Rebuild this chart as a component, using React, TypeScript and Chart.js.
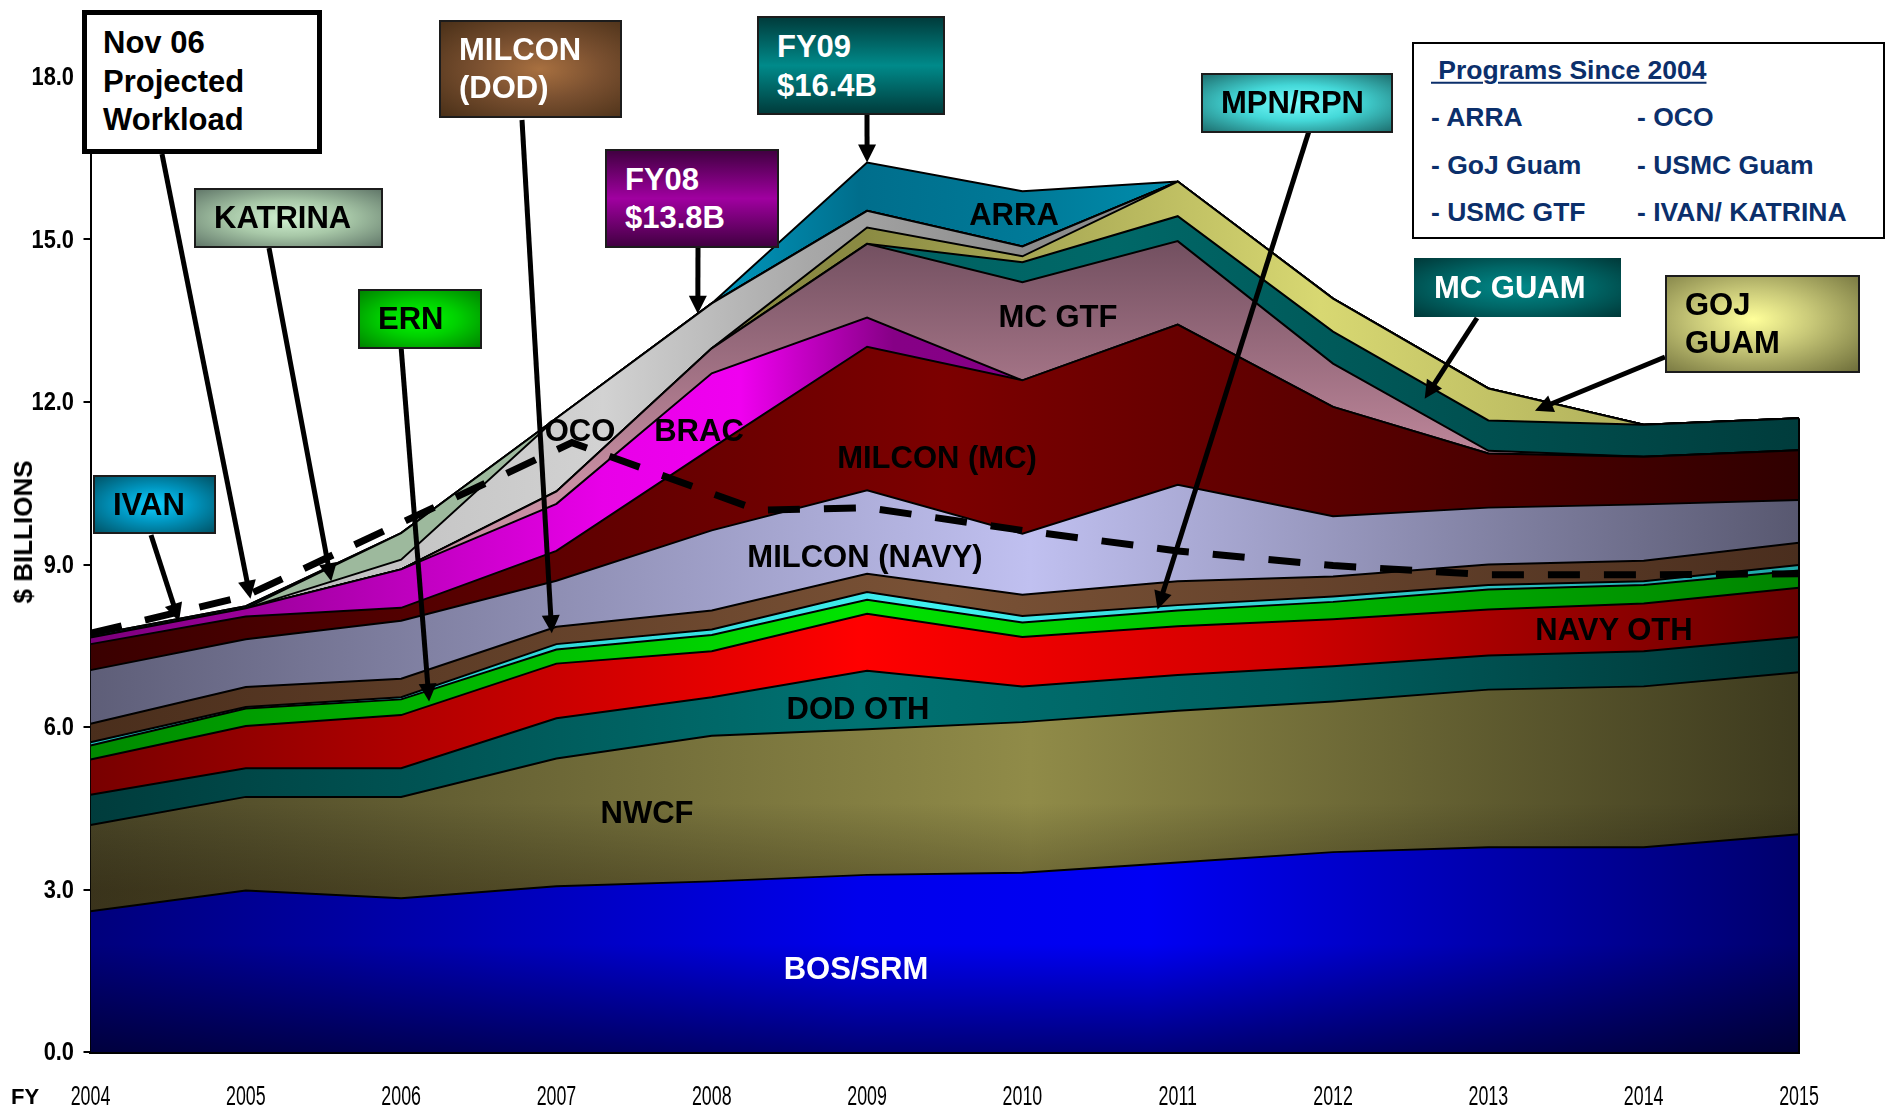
import React, { useEffect, useRef } from 'react';
import { Chart, registerables } from 'chart.js';
Chart.register(...registerables);

// ---------------- DATA ----------------
const years = [2004, 2005, 2006, 2007, 2008, 2009, 2010, 2011, 2012, 2013, 2014, 2015];
const bosSrm = [2.60, 2.98, 2.84, 3.06, 3.15, 3.27, 3.31, 3.50, 3.69, 3.78, 3.78, 4.02];
const nwcf = [1.59, 1.73, 1.87, 2.36, 2.69, 2.69, 2.78, 2.80, 2.78, 2.91, 2.97, 2.99];
const dodOth = [0.56, 0.53, 0.53, 0.74, 0.71, 1.08, 0.66, 0.66, 0.65, 0.63, 0.65, 0.65];
const navyOth = [0.65, 0.78, 0.98, 1.01, 0.85, 1.05, 0.91, 0.90, 0.87, 0.85, 0.88, 0.91];
const ern = [0.26, 0.32, 0.29, 0.26, 0.30, 0.26, 0.27, 0.29, 0.32, 0.37, 0.34, 0.32];
const mpnRpn = [0.06, 0.03, 0.04, 0.10, 0.10, 0.14, 0.12, 0.10, 0.10, 0.08, 0.07, 0.10];
const milconDod = [0.34, 0.37, 0.34, 0.32, 0.35, 0.34, 0.39, 0.44, 0.37, 0.38, 0.38, 0.41];
const milconNavy = [0.99, 0.88, 1.07, 0.85, 1.48, 1.54, 1.13, 1.78, 1.11, 1.05, 1.04, 0.79];
const milconMc = [0.48, 0.42, 0.24, 0.55, 1.52, 2.65, 2.83, 2.96, 2.02, 1.00, 0.88, 0.92];
const brac = [0.12, 0.15, 0.71, 0.87, 1.38, 0.54, 0, 0, 0, 0, 0, 0];
const mcGtf = [0, 0, 0, 0.23, 0.46, 1.36, 1.81, 1.54, 0.80, 0.05, 0, 0];
const mcGuam = [0, 0, 0, 0, 0, 0, 0.37, 0.46, 0.59, 0.56, 0.59, 0.59];
const gojGuam = [0, 0, 0, 0, 0, 0.30, 0.11, 0.64, 0.61, 0.59, 0, 0];
const oco = [0, 0, 0.18, 1.35, 0.83, 0.31, 0.18, 0, 0, 0, 0, 0];
const katrina = [0, 0, 0.49, 0, 0, 0, 0, 0, 0, 0, 0, 0];
const ivan = [0.04, 0.04, 0, 0, 0, 0, 0, 0, 0, 0, 0, 0];
const arra = [0, 0, 0, 0, 0, 0.89, 1.02, 0, 0, 0, 0, 0];

// Nov 06 projected workload (dashed line)
const projYears = [2004, 2005, 2007.1, 2008.3, 2009, 2010, 2011, 2012, 2013, 2014, 2015];
const projValues = [7.73, 8.42, 11.25, 10.0, 10.05, 9.63, 9.25, 8.98, 8.81, 8.81, 8.83];

const yTicks = [0, 3, 6, 9, 12, 15, 18];

// annotation arrows: start = pixel anchor on a callout box, end = data point
const arrowStarts = [[162, 154], [151, 535], [269, 248], [401, 346], [522, 120], [698, 248], [867, 115], [1309, 131], [1477, 318], [1665, 357]];
const arrowEndYears = [2005.03, 2004.57, 2005.55, 2006.18, 2006.97, 2007.91, 2009.0, 2010.87, 2012.59, 2013.3];
const arrowEndValues = [8.37, 7.95, 8.69, 6.47, 7.73, 13.63, 16.42, 8.17, 12.06, 11.84];

// ---------------- STYLES ----------------
const F = "'Liberation Sans', Arial, Helvetica, sans-serif";

type Stop = [number, string];
function hGrad(stops: Stop[]) {
  return (c: any) => {
    const chart = c.chart;
    const area = chart.chartArea;
    if (!area) return stops[0][1];
    const g = chart.ctx.createLinearGradient(area.left, 0, area.right, 0);
    stops.forEach(([p, col]) => g.addColorStop(p, col));
    return g;
  };
}
function vGrad(vTop: number, vBottom: number, stops: Stop[]) {
  return (c: any) => {
    const chart = c.chart;
    const area = chart.chartArea;
    const ys = chart.scales && chart.scales.y;
    if (!area || !ys) return stops[0][1];
    const g = chart.ctx.createLinearGradient(0, ys.getPixelForValue(vTop), 0, ys.getPixelForValue(vBottom));
    stops.forEach(([p, col]) => g.addColorStop(p, col));
    return g;
  };
}
// horizontal gradient with a vertical shading overlay, as a pattern
function hvGrad(hStops: Stop[], vTop: number, vBottom: number, vStops: Stop[]) {
  return (c: any) => {
    const chart = c.chart;
    const area = chart.chartArea;
    const ys = chart.scales && chart.scales.y;
    if (!area || !ys) return hStops[0][1];
    const cv = document.createElement('canvas');
    cv.width = chart.width;
    cv.height = chart.height;
    const g = cv.getContext('2d') as CanvasRenderingContext2D;
    const hg = g.createLinearGradient(area.left, 0, area.right, 0);
    hStops.forEach(([p, col]) => hg.addColorStop(p, col));
    g.fillStyle = hg;
    g.fillRect(0, 0, cv.width, cv.height);
    const vg = g.createLinearGradient(0, ys.getPixelForValue(vTop), 0, ys.getPixelForValue(vBottom));
    vStops.forEach(([p, col]) => vg.addColorStop(p, col));
    g.fillStyle = vg;
    g.fillRect(0, 0, cv.width, cv.height);
    return chart.ctx.createPattern(cv, 'no-repeat');
  };
}

const series: { label: string; data: number[]; bg: any }[] = [
  { label: 'BOS/SRM', data: bosSrm, bg: hvGrad([[0, '#00007c'], [0.45, '#0000ec'], [0.62, '#0000f4'], [1, '#00006c']], 2.0, 0, [[0, 'rgba(0,0,0,0)'], [1, 'rgba(0,0,0,0.5)']]) },
  { label: 'NWCF', data: nwcf, bg: hvGrad([[0, '#4a4526'], [0.55, '#908b48'], [1, '#3d3a1e']], 4.6, 3.0, [[0, 'rgba(0,0,0,0)'], [1, 'rgba(20,10,0,0.3)']]) },
  { label: 'DOD OTH', data: dodOth, bg: hGrad([[0, '#003c3c'], [0.45, '#007272'], [0.7, '#006060'], [1, '#003636']]) },
  { label: 'NAVY OTH', data: navyOth, bg: hGrad([[0, '#780000'], [0.45, '#ff0000'], [0.7, '#d00000'], [1, '#680000']]) },
  { label: 'ERN', data: ern, bg: hGrad([[0, '#008a00'], [0.45, '#00e400'], [1, '#008400']]) },
  { label: 'MPN/RPN', data: mpnRpn, bg: hGrad([[0, '#20c0c0'], [0.5, '#40f0f0'], [1, '#20a8a8']]) },
  { label: 'MILCON (DOD)', data: milconDod, bg: hGrad([[0, '#4a2e1c'], [0.5, '#7a5236'], [1, '#4a2e1e']]) },
  { label: 'MILCON (NAVY)', data: milconNavy, bg: hGrad([[0, '#5e5e78'], [0.55, '#c0c0f0'], [1, '#585870']]) },
  { label: 'MILCON (MC)', data: milconMc, bg: hGrad([[0, '#3a0000'], [0.5, '#7c0000'], [1, '#300000']]) },
  { label: 'BRAC', data: brac, bg: hGrad([[0, '#7a007a'], [0.3, '#e800e8'], [0.38, '#f000f0'], [0.47, '#860086'], [1, '#800080']]) },
  { label: 'MC GTF', data: mcGtf, bg: vGrad(15.5, 10.5, [[0, '#684858'], [1, '#c88ea2']]) },
  { label: 'MC GUAM', data: mcGuam, bg: hGrad([[0, '#004a4a'], [0.6, '#006868'], [1, '#003c3c']]) },
  { label: 'GOJ GUAM', data: gojGuam, bg: hGrad([[0, '#8a8a40'], [0.45, '#8a8a42'], [0.72, '#d8d872'], [1, '#9c9c50']]) },
  { label: 'OCO', data: oco, bg: hGrad([[0, '#b0b0b0'], [0.3, '#d2d2d2'], [0.42, '#a8a8a8'], [0.55, '#8c8c8c'], [1, '#8c8c8c']]) },
  { label: 'KATRINA', data: katrina, bg: '#9db99d' },
  { label: 'IVAN', data: ivan, bg: '#007ea0' },
  { label: 'ARRA', data: arra, bg: hGrad([[0, '#00a8d0'], [0.35, '#00a0c8'], [0.45, '#006e8c'], [0.55, '#007a98'], [0.65, '#0090b0'], [1, '#0090b0']]) },
];

// condensed tick labels drawn at the library's own tick positions
const condensedTicks = {
  id: 'condensedTicks',
  afterDraw(chart: any) {
    const { ctx, scales } = chart;
    const xs = scales.x, ys = scales.y;
    ctx.save();
    ctx.fillStyle = '#000';
    ctx.textBaseline = 'middle';
    // x ticks
    ctx.font = `27px ${F}`;
    ctx.textAlign = 'center';
    xs.ticks.forEach((t: any) => {
      const px = xs.getPixelForValue(t.value);
      ctx.save();
      ctx.translate(px, 1098);
      ctx.scale(0.66, 1);
      ctx.fillText(String(t.value), 0, 0);
      ctx.restore();
    });
    // y ticks
    ctx.font = `bold 26px ${F}`;
    ctx.textAlign = 'right';
    ys.ticks.forEach((t: any) => {
      const py = ys.getPixelForValue(t.value);
      ctx.save();
      ctx.translate(74, py + 1);
      ctx.scale(0.84, 1);
      ctx.fillText(Number(t.value).toFixed(1), 0, 0);
      ctx.restore();
    });
    ctx.restore();
  },
};

const arrowPlugin = {
  id: 'calloutArrows',
  afterDatasetsDraw(chart: any) {
    const { ctx, scales, chartArea } = chart;
    const xs = scales.x, ys = scales.y;
    ctx.save();
    // right edge of the stacked area
    const lastMeta = chart.getDatasetMeta(series.length);
    const pts = lastMeta.data;
    if (pts && pts.length) {
      const p = pts[pts.length - 1];
      ctx.strokeStyle = '#000';
      ctx.lineWidth = 2;
      ctx.beginPath();
      ctx.moveTo(chartArea.right, chartArea.bottom);
      ctx.lineTo(chartArea.right, p.y);
      ctx.stroke();
    }
    ctx.fillStyle = '#000';
    ctx.strokeStyle = '#000';
    ctx.lineWidth = 5;
    ctx.lineCap = 'butt';
    arrowStarts.forEach((s, i) => {
      const tx = xs.getPixelForValue(arrowEndYears[i]);
      const ty = ys.getPixelForValue(arrowEndValues[i]);
      const dx = tx - s[0], dy = ty - s[1];
      const len = Math.hypot(dx, dy);
      const ux = dx / len, uy = dy / len;
      const head = 18, half = 9;
      const bx = tx - ux * head, by = ty - uy * head;
      ctx.beginPath();
      ctx.moveTo(s[0], s[1]);
      ctx.lineTo(bx + ux * 2, by + uy * 2);
      ctx.stroke();
      ctx.beginPath();
      ctx.moveTo(tx, ty);
      ctx.lineTo(bx - uy * half, by + ux * half);
      ctx.lineTo(bx + uy * half, by - ux * half);
      ctx.closePath();
      ctx.fill();
    });
    ctx.restore();
  },
};

function Box(props: { x: number; y: number; w: number; h: number; bg: string; color: string; lines: string[]; border?: string; pad?: number; lh?: number }) {
  const { x, y, w, h, bg, color, lines, border = '2px solid #1c1c1c', pad = 18, lh = 38 } = props;
  return (
    <div style={{ position: 'absolute', left: x, top: y, width: w, height: h, boxSizing: 'border-box', border, background: bg, display: 'flex', flexDirection: 'column', justifyContent: 'center', paddingLeft: pad, fontFamily: F, fontWeight: 'bold', fontSize: 31, lineHeight: lh + 'px', color, whiteSpace: 'nowrap' }}>
      {lines.map((l) => (<div key={l}>{l}</div>))}
    </div>
  );
}

function Label(props: { x: number; y: number; text: string; color?: string; size?: number }) {
  const { x, y, text, color = '#000', size = 31 } = props;
  return (
    <div style={{ position: 'absolute', left: x, top: y, transform: 'translate(-50%, -50%)', fontFamily: F, fontWeight: 'bold', fontSize: size, lineHeight: 1, color, whiteSpace: 'nowrap' }}>{text}</div>
  );
}

function LText(props: { x: number; y: number; text: string; color?: string; size?: number; underline?: boolean }) {
  const { x, y, text, color = '#0b2f6b', size = 26.5, underline = false } = props;
  return (
    <div style={{ position: 'absolute', left: x, top: y, transform: 'translateY(-50%)', fontFamily: F, fontWeight: 'bold', fontSize: size, lineHeight: 1, color, whiteSpace: 'pre', textDecoration: underline ? 'underline' : 'none', textDecorationThickness: underline ? '2px' : undefined, textUnderlineOffset: underline ? '3px' : undefined }}>{text}</div>
  );
}

export default function App() {
  const ref = useRef<HTMLCanvasElement | null>(null);
  useEffect(() => {
    if (!ref.current) return;
    const datasets: any[] = [
      {
        label: 'Nov 06 Projected Workload',
        data: projYears.map((x, i) => ({ x, y: projValues[i] })),
        stack: 'proj',
        borderColor: '#000',
        borderWidth: 7,
        borderDash: [32, 24],
        pointRadius: 0,
        fill: false,
        tension: 0,
      },
      ...series.map((s, i) => ({
        label: s.label,
        data: years.map((x, j) => ({ x, y: s.data[j] })),
        stack: 'main',
        backgroundColor: s.bg,
        borderColor: '#000',
        borderWidth: 2,
        pointRadius: 0,
        fill: i === 0 ? 'origin' : '-1',
        tension: 0,
      })),
    ];
    const chart = new Chart(ref.current, {
      type: 'line',
      data: { datasets },
      plugins: [arrowPlugin, condensedTicks],
      options: {
        responsive: false,
        animation: false,
        events: [],
        layout: { padding: { top: 77, right: 94, left: 0, bottom: 0 } },
        plugins: { legend: { display: false }, tooltip: { enabled: false } },
        scales: {
          x: {
            type: 'linear',
            min: years[0],
            max: years[years.length - 1],
            afterBuildTicks: (sc: any) => { sc.ticks = years.map((v) => ({ value: v })); },
            afterFit: (sc: any) => { sc.height = 60; },
            ticks: { display: false, callback: (v: any) => String(v) },
            grid: { display: false },
            border: { display: true, color: '#000', width: 3 },
          },
          y: {
            stacked: true,
            min: 0,
            max: 18,
            afterBuildTicks: (sc: any) => { sc.ticks = yTicks.map((v) => ({ value: v })); },
            afterFit: (sc: any) => { sc.width = 90.5; },
            ticks: { display: false, callback: (v: any) => Number(v).toFixed(1) },
            grid: { display: true, drawOnChartArea: false, drawTicks: true, tickLength: 7, color: '#000', lineWidth: 2 },
            border: { display: true, color: '#000', width: 2 },
          },
        },
      } as any,
    });
    return () => chart.destroy();
  }, []);

  return (
    <div style={{ position: 'absolute', left: 0, top: 0, width: 1893, height: 1112, background: '#fff', overflow: 'hidden' }}>
      <canvas ref={ref} width={1893} height={1112} style={{ position: 'absolute', left: 0, top: 0, width: 1893, height: 1112 }} />

      {/* y axis title */}
      <div style={{ position: 'absolute', left: 23, top: 532, transform: 'translate(-50%, -50%) rotate(-90deg)', fontFamily: F, fontWeight: 'bold', fontSize: 26, lineHeight: 1, color: '#000', whiteSpace: 'nowrap' }}>$ BILLIONS</div>

      {/* area labels */}
      <Label x={856} y={968} text="BOS/SRM" color="#fff" />
      <Label x={647} y={812} text="NWCF" />
      <Label x={858} y={708} text="DOD OTH" />
      <Label x={1614} y={629} text="NAVY OTH" />
      <Label x={865} y={556} text="MILCON (NAVY)" />
      <Label x={937} y={457} text="MILCON (MC)" />
      <Label x={1058} y={316} text="MC GTF" />
      <Label x={1014} y={214} text="ARRA" />
      <Label x={699} y={430} text="BRAC" />
      <Label x={580} y={430} text="OCO" />

      {/* callout boxes */}
      <Box x={82} y={10} w={240} h={144} bg="#fff" color="#000" border="5px solid #000" pad={16} lh={38.5} lines={['Nov 06', 'Projected', 'Workload']} />
      <Box x={93} y={475} w={123} h={59} bg="radial-gradient(ellipse at 50% 50%, #10d0ff 0%, #0096c0 45%, #005468 100%)" color="#000" lines={['IVAN']} />
      <Box x={194} y={188} w={189} h={60} bg="radial-gradient(ellipse at 50% 50%, #d2f2d2 0%, #a8c8a8 45%, #62786a 100%)" color="#000" lines={['KATRINA']} />
      <Box x={358} y={289} w={124} h={60} bg="radial-gradient(ellipse at 50% 50%, #00ff00 0%, #00d000 45%, #008400 100%)" color="#000" lines={['ERN']} />
      <Box x={439} y={20} w={183} h={98} bg="radial-gradient(ellipse at 55% 50%, #a87040 0%, #7a5030 45%, #4a3018 100%)" color="#fff" lines={['MILCON', '(DOD)']} />
      <Box x={605} y={149} w={174} h={99} bg="linear-gradient(to bottom, #420042 0%, #a000a0 50%, #420042 100%)" color="#fff" lh={37.5} lines={['FY08', '$13.8B']} />
      <Box x={757} y={16} w={188} h={99} bg="linear-gradient(to bottom, #003c3c 0%, #008a8a 50%, #003c3c 100%)" color="#fff" lh={39} lines={['FY09', '$16.4B']} />
      <Box x={1201} y={73} w={192} h={60} bg="radial-gradient(ellipse at 50% 50%, #7affff 0%, #44d8d8 45%, #1e7070 100%)" color="#000" lines={['MPN/RPN']} />
      <Box x={1414} y={258} w={207} h={59} bg="radial-gradient(ellipse at 50% 50%, #008a8a 0%, #006666 50%, #003838 100%)" color="#fff" border="0px solid #000" pad={20} lines={['MC GUAM']} />
      <Box x={1665} y={275} w={195} h={98} bg="radial-gradient(ellipse at 45% 45%, #ffff9a 0%, #c8c878 40%, #6e6e3a 100%)" color="#000" lh={37.7} lines={['GOJ', 'GUAM']} />

      {/* programs box */}
      <div style={{ position: 'absolute', left: 1412, top: 42, width: 473, height: 197, boxSizing: 'border-box', border: '2px solid #000', background: '#fff' }} />
      <LText x={1431} y={70} text=" Programs Since 2004" underline />
      <LText x={1431} y={117} text="- ARRA" />
      <LText x={1637} y={117} text="- OCO" />
      <LText x={1431} y={165} text="- GoJ Guam" />
      <LText x={1637} y={165} text="- USMC Guam" />
      <LText x={1431} y={212} text="- USMC GTF" />
      <LText x={1637} y={212} text="- IVAN/ KATRINA" />

      {/* FY axis marker */}
      <LText x={11} y={1097} text="FY" color="#000" size={22} />
    </div>
  );
}
